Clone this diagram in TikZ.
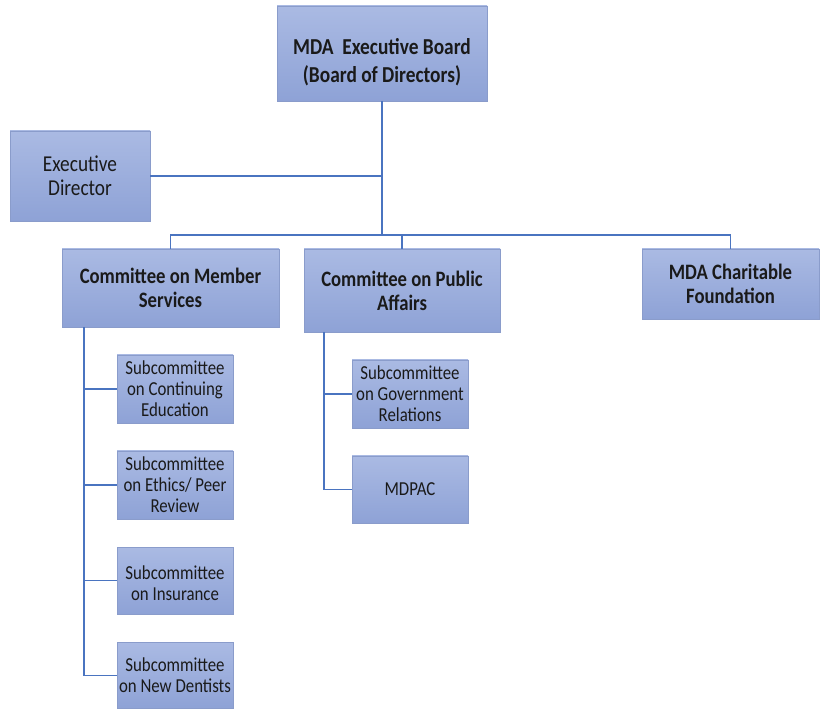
\documentclass[tikz,border=0pt]{standalone}
\usepackage{fontspec}
\setmainfont{Carlito}[FakeStretch=0.85]
\definecolor{linkblue}{HTML}{4A74C0}
\definecolor{boxtop}{HTML}{AABAE3}
\definecolor{boxbot}{HTML}{8EA2D6}
\definecolor{boxedge}{HTML}{8A9CCB}
\definecolor{txt}{HTML}{1A1A1A}
\tikzset{
  box/.style={rectangle, draw=boxedge, line width=0.8pt, top color=boxtop, bottom color=boxbot,
    text=txt, align=center, inner sep=0pt},
  mainbox/.style={box, font=\bfseries\fontsize{22}{24}\selectfont},
  topbox/.style={box},
  toptext/.style={text=txt, align=center, inner sep=0pt, yshift=-9pt, font=\bfseries\fontsize{22.8}{28}\selectfont},
  execbox/.style={box, font=\fontsize{22.7}{24}\selectfont},
  subbox/.style={box, font=\fontsize{19.8}{21}\selectfont},
  subtext/.style={text=txt, align=center, inner sep=0pt, yshift=-2.5pt, font=\fontsize{19.8}{21}\selectfont},
  link/.style={draw=linkblue, line width=1.6pt}
}
\begin{document}
\begin{tikzpicture}[x=1pt,y=-1pt]
\useasboundingbox (0,0) rectangle (820,711);
\node[topbox, minimum width=210pt, minimum height=95pt,
  label={[toptext]center:MDA\ \ Executive Board\\(Board of Directors)}] (top) at (382,53.5) {};
\node[execbox, minimum width=140pt, minimum height=90pt] (exec) at (80,176) {Executive\\Director};
\node[mainbox, minimum width=217pt, minimum height=78pt] (cms) at (170.5,288) {Committee on Member\\Services};
\node[mainbox, minimum width=196pt, minimum height=83pt] (cpa) at (402,290.5) {Committee on Public\\Affairs};
\node[mainbox, minimum width=177pt, minimum height=70pt] (mcf) at (730.5,284) {MDA Charitable\\Foundation};
\node[subbox, minimum width=116pt, minimum height=68pt] (s1) at (175,389) {Subcommittee\\on Continuing\\Education};
\node[subbox, minimum width=116pt, minimum height=68pt] (s2) at (175,485) {Subcommittee\\on Ethics/ Peer\\Review};
\node[subbox, minimum width=116pt, minimum height=67pt,
  label={[subtext]center:Subcommittee\\on Insurance}] (s3) at (175,580.5) {};
\node[subbox, minimum width=116pt, minimum height=66pt] (s4) at (175,675.5) {Subcommittee\\on New Dentists};
\node[subbox, minimum width=116pt, minimum height=68pt] (g1) at (410,394) {Subcommittee\\on Government\\Relations};
\node[subbox, minimum width=116pt, minimum height=67pt] (g2) at (410,489.5) {MDPAC};
\coordinate (bar) at (382,235);
\coordinate (lspine) at (84,327);
\coordinate (rspine) at (324,332);
\draw[link] (top.south) -- (bar);
\draw[link] (exec.east) -- (exec.east -| top.south);
\draw[link] (cms.north) |- (bar) -| (mcf.north);
\draw[link] (cpa.north) -- (cpa.north |- bar);
\draw[link] (lspine) |- (s4.west);
\draw[link] (s1.west) -- (s1.west -| lspine);
\draw[link] (s2.west) -- (s2.west -| lspine);
\draw[link] (s3.west) -- (s3.west -| lspine);
\draw[link] (rspine) |- (g2.west);
\draw[link] (g1.west) -- (g1.west -| rspine);
\end{tikzpicture}
\end{document}
